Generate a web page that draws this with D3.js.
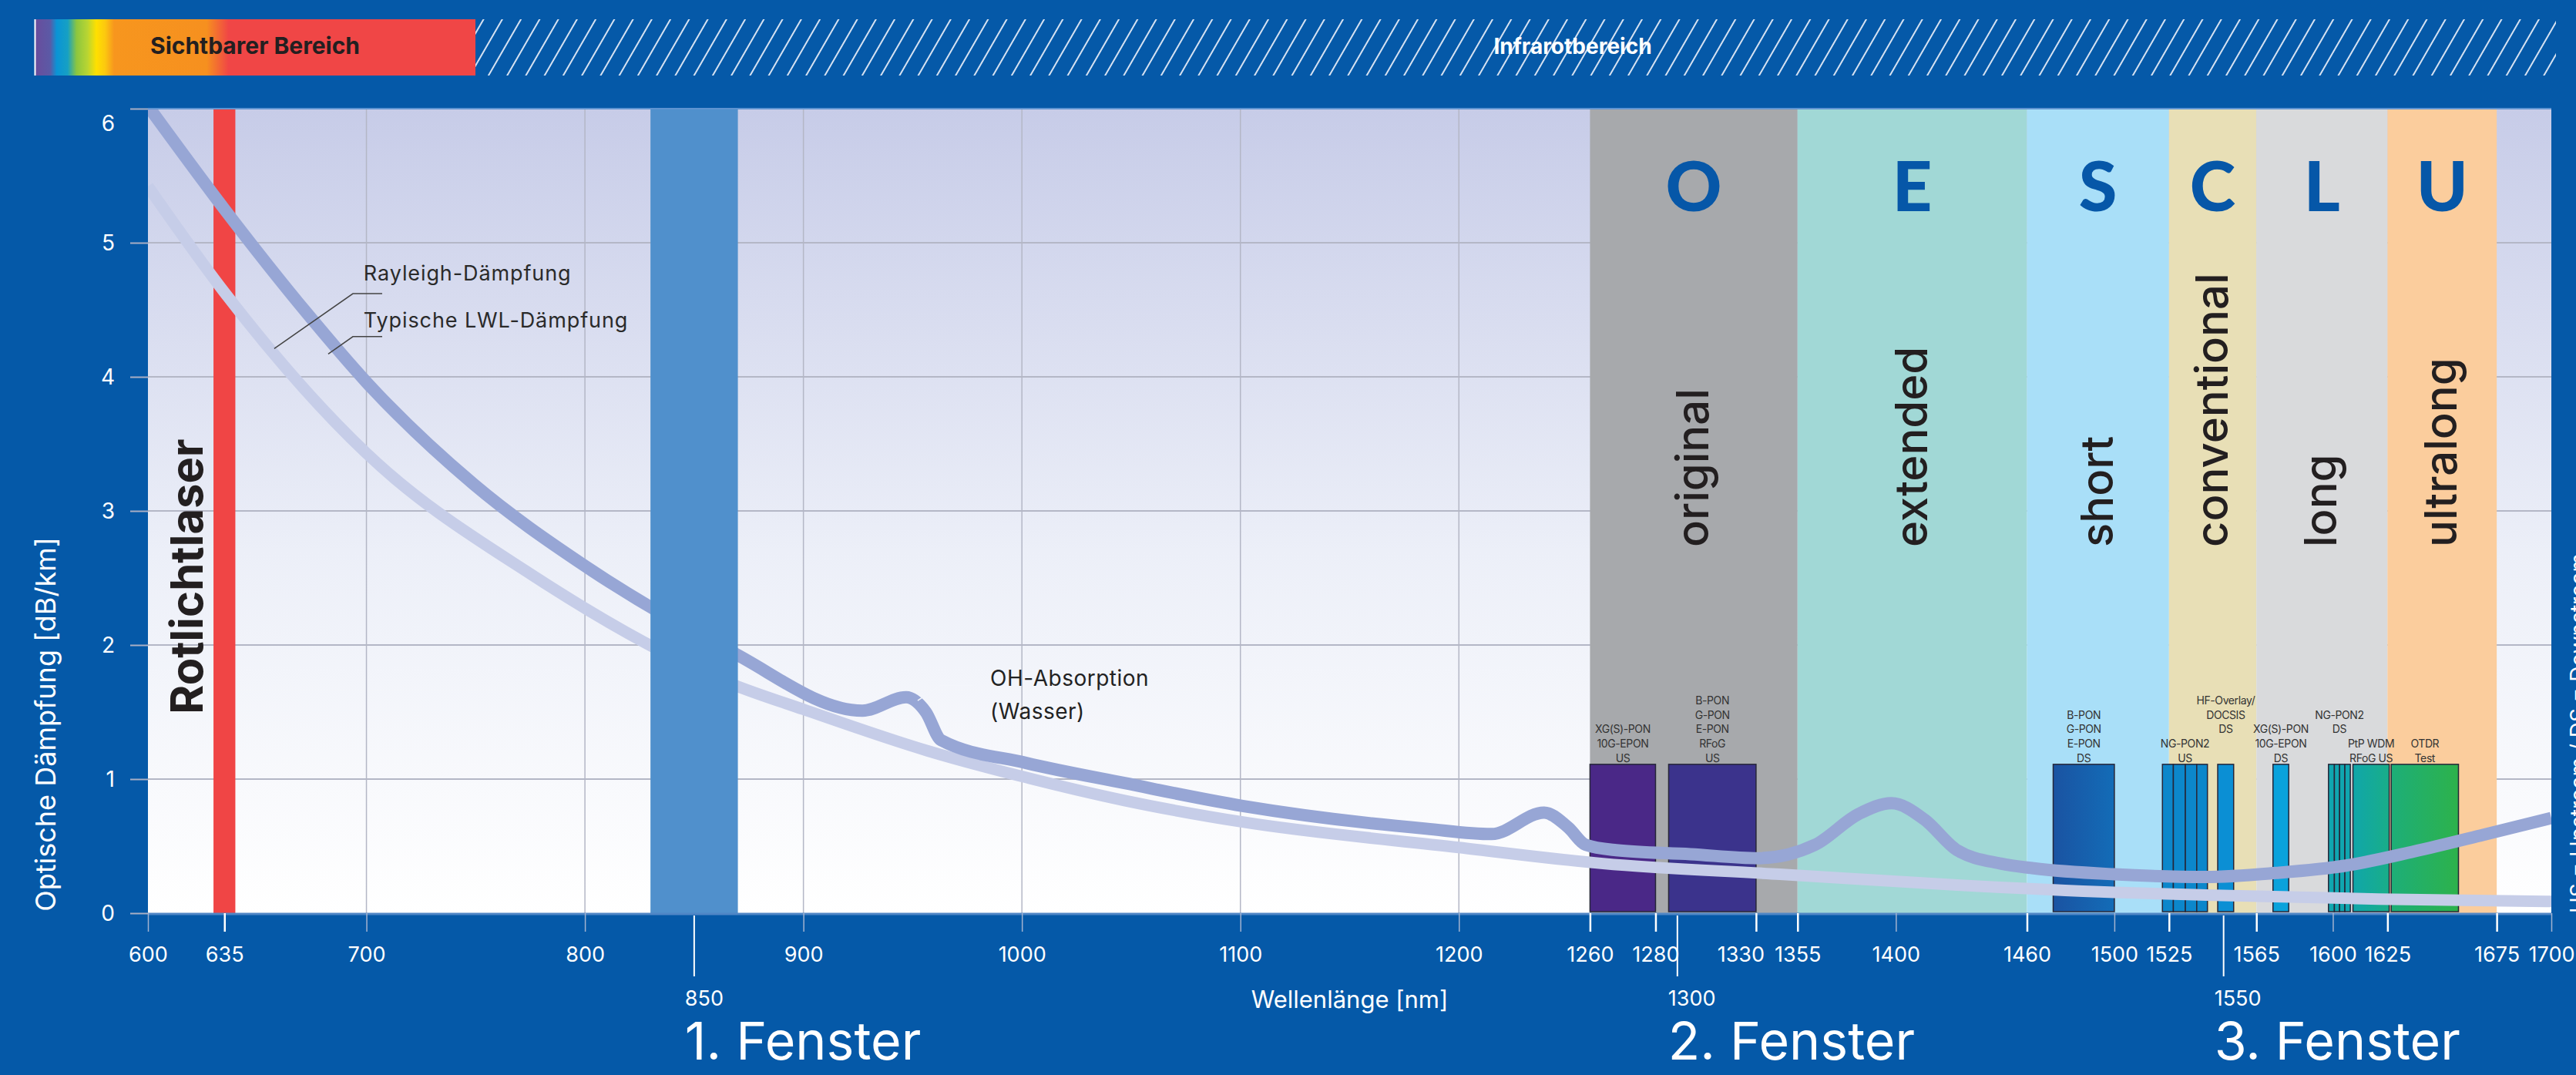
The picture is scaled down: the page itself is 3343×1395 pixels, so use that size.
<!DOCTYPE html>
<html>
<head>
<meta charset="utf-8">
<script src="https://cdn.jsdelivr.net/npm/d3@7"></script>
<style>
  body { margin: 0; background: #0559a8; }
  svg { display: block; font-family: Inter, "Open Sans", sans-serif; }
</style>
</head>
<body>
<div id="chart"></div>
<script>
// ---- data ----
const xTickPos = [600, 635, 700, 800, 900, 1000, 1100, 1200, 1260, 1290, 1336, 1355, 1400, 1460, 1500, 1525, 1565, 1600, 1625, 1675, 1700];
const xTickLabels = ["600", "635", "700", "800", "900", "1000", "1100", "1200", "1260", "1280", "1330", "1355", "1400", "1460", "1500", "1525", "1565", "1600", "1625", "1675", "1700"];
const yTicks = [0, 1, 2, 3, 4, 5, 6];
const gridX = [700, 800, 900, 1000, 1100, 1200];
const windowTicks = [850, 1300, 1550];
const windowNames = ["1. Fenster", "2. Fenster", "3. Fenster"];

const bandLetters = ["O", "E", "S", "C", "L", "U"];
const bandNames = ["original", "extended", "short", "conventional", "long", "ultralong"];
const bandFrom = [1260, 1355, 1460, 1525, 1565, 1625];
const bandTo = [1355, 1460, 1525, 1565, 1625, 1675];

const laserBand = [630, 640];
const band850 = [830, 870];

// upper curve (typische LWL-Dämpfung, with OH peaks)
const typicalNm = [600, 635, 673, 700, 749, 800, 867, 927, 947, 956, 963, 1002, 1047, 1101, 1160, 1185, 1215, 1239, 1250, 1258, 1272, 1306, 1337, 1363, 1383, 1398, 1413, 1428, 1448, 1463, 1500, 1542, 1574, 1606, 1637, 1669, 1700];
const typicalDb = [6.02, 5.25, 4.47, 3.96, 3.2, 2.59, 1.95, 1.51, 1.61, 1.5, 1.29, 1.12, 0.97, 0.8, 0.67, 0.63, 0.59, 0.75, 0.64, 0.51, 0.47, 0.44, 0.41, 0.51, 0.74, 0.82, 0.7, 0.47, 0.37, 0.335, 0.29, 0.27, 0.3, 0.355, 0.46, 0.585, 0.71];
// lower curve (Rayleigh)
const rayleighNm = [600, 635, 700, 776, 867, 900, 957, 1000, 1047, 1101, 1200, 1266, 1347, 1428, 1500, 1542, 1621, 1700];
const rayleighDb = [5.42, 4.63, 3.43, 2.52, 1.71, 1.52, 1.21, 1.02, 0.84, 0.68, 0.49, 0.37, 0.29, 0.21, 0.155, 0.135, 0.105, 0.087];

// PON / service channels: edges of each channel group, and their labels
const ponLevel = 1.11;
const ponEdges = [
  [1260, 1290],
  [1296, 1336],
  [1472, 1500],
  [1522, 1527, 1532.5, 1537.7, 1542.6],
  [1547.3, 1554.6],
  [1572.6, 1579.8],
  [1598, 1600.7, 1603.1, 1605.5, 1608],
  [1609.2, 1625.8],
  [1626.7, 1657.5]
];
const ponLabels = [
  ["XG(S)-PON", "10G-EPON", "US"],
  ["B-PON", "G-PON", "E-PON", "RFoG", "US"],
  ["B-PON", "G-PON", "E-PON", "DS"],
  ["NG-PON2", "US"],
  ["HF-Overlay/", "DOCSIS", "DS"],
  ["XG(S)-PON", "10G-EPON", "DS"],
  ["NG-PON2", "DS"],
  ["PtP WDM", "RFoG US"],
  ["OTDR", "Test"]
];

// ---- styles / layout ----
const bandColors = ["#a7a9ac", "#a1d8d6", "#a9dff8", "#e8dfb6", "#d9dadc", "#fbcd9d"];
const ponColors = ["#4a2887", "#3b338c", "url(#gPonDs)", "#0c87cb", "#0b8fd4", "#0aa2dc", "#10a6b0", "url(#gPtp)", "url(#gOtdr)"];
const ponLabelLift = [0, 0, 0, 0, 2, 0, 2, 0, 0];

const W = 3343, H = 1395;
const x = d3.scaleLinear().domain([600, 1700]).range([192, 3311]);
const y = d3.scaleLinear().domain([0, 6]).range([1185, 141]);

const svg = d3.select("#chart").append("svg").attr("width", W).attr("height", H);
const defs = svg.append("defs");

svg.append("rect").attr("width", W).attr("height", H).attr("fill", "#0559a8");

// gradients
function grad(id, stops, vertical) {
  const g = defs.append("linearGradient").attr("id", id)
    .attr("x1", 0).attr("y1", 0).attr("x2", vertical ? 0 : 1).attr("y2", vertical ? 1 : 0);
  stops.forEach(s => g.append("stop").attr("offset", s[0]).attr("stop-color", s[1]));
}
grad("plotBg", [[0, "#c7cce8"], [0.55, "#eceff8"], [1, "#ffffff"]], true);
grad("spectrum", [[0, "#6a4c9c"], [0.035, "#5b5aa6"], [0.05, "#0a94d6"], [0.075, "#16a0c4"],
  [0.095, "#8cc63f"], [0.12, "#b9d532"], [0.14, "#ffe000"], [0.16, "#fcc80f"], [0.18, "#f7961e"],
  [0.39, "#f6901f"], [0.44, "#f04646"], [1, "#f04646"]]);
grad("gPonDs", [[0, "#1a53a2"], [1, "#136cb7"]]);
grad("gPtp", [[0, "#10a6aa"], [1, "#19ae88"]]);
grad("gOtdr", [[0, "#1dae78"], [1, "#2db24b"]]);

const hatch = defs.append("pattern").attr("id", "hatch")
  .attr("patternUnits", "userSpaceOnUse").attr("width", 21).attr("height", 21)
  .attr("patternTransform", "rotate(30)");
hatch.append("line").attr("x1", 10).attr("x2", 10).attr("y1", -1).attr("y2", 22)
  .attr("stroke", "#d6e2f2").attr("stroke-width", 2);

defs.append("clipPath").attr("id", "plotClip").append("rect")
  .attr("x", x(600)).attr("y", y(6)).attr("width", x(1700) - x(600)).attr("height", y(0) - y(6));

// ---- top bar ----
svg.append("rect").attr("x", 45).attr("y", 25).attr("width", 572).attr("height", 73).attr("fill", "url(#spectrum)");
svg.append("line").attr("x1", 45.5).attr("x2", 45.5).attr("y1", 25).attr("y2", 98).attr("stroke", "#fff").attr("stroke-width", 2);
svg.append("rect").attr("x", 617).attr("y", 25).attr("width", 2700).attr("height", 73).attr("fill", "url(#hatch)");
svg.append("text").attr("x", 195).attr("y", 70).attr("font-size", 30).attr("font-weight", 700)
  .attr("fill", "#231f20").text("Sichtbarer Bereich");
svg.append("text").attr("x", 2041).attr("y", 70).attr("text-anchor", "middle").attr("font-size", 28)
  .attr("font-weight", 700).attr("fill", "#fff").text("Infrarotbereich");

// ---- plot background & grid ----
svg.append("rect").attr("x", x(600)).attr("y", y(6)).attr("width", x(1700) - x(600))
  .attr("height", y(0) - y(6)).attr("fill", "url(#plotBg)");

svg.append("g").selectAll("line").data(yTicks.filter(d => d > 0 && d < 6)).enter().append("line")
  .attr("x1", x(600)).attr("x2", x(1700))
  .attr("y1", d => y(d)).attr("y2", d => y(d))
  .attr("stroke", "#b4b7c6").attr("stroke-width", 2);

svg.append("g").selectAll("line").data(gridX).enter().append("line")
  .attr("x1", d => x(d)).attr("x2", d => x(d))
  .attr("y1", y(6)).attr("y2", y(0))
  .attr("stroke", "#b4b7c6").attr("stroke-width", 1.5);

// ---- bands ----
svg.append("g").selectAll("rect").data(bandFrom).enter().append("rect")
  .attr("x", d => x(d))
  .attr("y", y(6))
  .attr("width", (d, i) => x(bandTo[i]) - x(d))
  .attr("height", y(0) - y(6))
  .attr("fill", (d, i) => bandColors[i]);

svg.append("rect").attr("x", x(laserBand[0])).attr("y", y(6))
  .attr("width", x(laserBand[1]) - x(laserBand[0])).attr("height", y(0) - y(6)).attr("fill", "#f04545");

// ---- PON channel boxes ----
const pon = svg.append("g");
ponEdges.forEach((edges, gi) => {
  for (let k = 0; k < edges.length - 1; k++) {
    pon.append("rect")
      .attr("x", x(edges[k]))
      .attr("y", y(ponLevel))
      .attr("width", x(edges[k + 1]) - x(edges[k]))
      .attr("height", y(0) - y(ponLevel) - 2)
      .attr("fill", ponColors[gi])
      .attr("stroke", "#262638")
      .attr("stroke-width", 1.5);
  }
});

// ---- curves ----
const line = d3.line().x(d => x(d[0])).y(d => y(d[1])).curve(d3.curveMonotoneX);
const curves = svg.append("g").attr("clip-path", "url(#plotClip)");
curves.append("path").datum(rayleighNm.map((v, i) => [v, rayleighDb[i]]))
  .attr("d", line).attr("fill", "none").attr("stroke", "#c6cde8").attr("stroke-width", 15);
curves.append("path").datum(typicalNm.map((v, i) => [v, typicalDb[i]]))
  .attr("d", line).attr("fill", "none").attr("stroke", "#97a6d5").attr("stroke-width", 16);

svg.append("rect").attr("x", x(band850[0])).attr("y", y(6))
  .attr("width", x(band850[1]) - x(band850[0])).attr("height", y(0) - y(6)).attr("fill", "#5090cc");

// plot edges
svg.append("line").attr("x1", x(600)).attr("x2", x(1700)).attr("y1", y(6)).attr("y2", y(6))
  .attr("stroke", "#5f94d2").attr("stroke-width", 2);
svg.append("line").attr("x1", x(600)).attr("x2", x(1700)).attr("y1", y(0) + 1).attr("y2", y(0) + 1)
  .attr("stroke", "#4f86c6").attr("stroke-width", 3);

// ---- band letters and names ----
svg.append("g").selectAll("text").data(bandLetters).enter().append("text")
  .attr("x", (d, i) => x((bandFrom[i] + bandTo[i]) / 2))
  .attr("y", 274)
  .attr("text-anchor", "middle")
  .attr("font-family", "Lato, sans-serif")
  .attr("font-size", 90)
  .attr("font-weight", 900)
  .attr("fill", "#0657a8")
  .text(d => d);

svg.append("g").selectAll("text").data(bandNames).enter().append("text")
  .attr("transform", (d, i) => `translate(${x((bandFrom[i] + bandTo[i]) / 2) + 19},710) rotate(-90)`)
  .attr("font-size", 58)
  .attr("font-weight", 500)
  .attr("fill", "#231f20")
  .text(d => d);

svg.append("text")
  .attr("transform", `translate(${x(laserBand[0]) - 14},748) rotate(-90)`)
  .attr("text-anchor", "middle").attr("font-size", 58).attr("font-weight", 700)
  .attr("fill", "#231f20").text("Rotlichtlaser");

// ---- PON labels ----
ponLabels.forEach((lines, gi) => {
  const edges = ponEdges[gi];
  const cx = x((edges[0] + edges[edges.length - 1]) / 2);
  const bottom = y(ponLevel) - 3 - ponLabelLift[gi] * 18.7;
  svg.append("g").selectAll("text").data(lines).enter().append("text")
    .attr("x", cx)
    .attr("y", (d, i) => bottom - (lines.length - 1 - i) * 18.7)
    .attr("text-anchor", "middle")
    .attr("font-size", 14)
    .attr("letter-spacing", -0.4)
    .attr("fill", "#333")
    .text(d => d);
});

// ---- annotations ----
const lead = d3.line().x(d => x(d[0])).y(d => y(d[1]));
svg.append("path").datum([[707.2, 4.62], [693.8, 4.62], [657.8, 4.21]]).attr("d", lead)
  .attr("fill", "none").attr("stroke", "#444").attr("stroke-width", 1.5);
svg.append("path").datum([[707.2, 4.3], [693.8, 4.3], [682.5, 4.17]]).attr("d", lead)
  .attr("fill", "none").attr("stroke", "#444").attr("stroke-width", 1.5);
svg.append("text").attr("x", x(698.7)).attr("y", y(4.72)).attr("font-size", 27).attr("letter-spacing", 0.9)
  .attr("fill", "#2a2a2a").text("Rayleigh-Dämpfung");
svg.append("text").attr("x", x(698.7)).attr("y", y(4.37)).attr("font-size", 27).attr("letter-spacing", 0.9)
  .attr("fill", "#2a2a2a").text("Typische LWL-Dämpfung");

svg.append("path").datum([[977.5, 1.7], [962.9, 1.7], [952.3, 1.586]]).attr("d", lead)
  .attr("fill", "none").attr("stroke", "#f4f6fb").attr("stroke-width", 1.5);
svg.append("text").attr("x", x(985.5)).attr("y", y(1.695)).attr("font-size", 28).attr("letter-spacing", 0.5)
  .attr("fill", "#222").text("OH-Absorption");
svg.append("text").attr("x", x(985.5)).attr("y", y(1.448)).attr("font-size", 28).attr("letter-spacing", 0.5)
  .attr("fill", "#222").text("(Wasser)");

// ---- axes ----
const xAxis = svg.append("g").attr("transform", `translate(0,${y(0)})`)
  .call(d3.axisBottom(x).tickValues(xTickPos).tickFormat((d, i) => xTickLabels[i]).tickSize(24).tickPadding(20));
xAxis.select(".domain").remove();
xAxis.selectAll(".tick line")
  .attr("stroke", d => d % 100 === 0 ? "#a3b3d0" : "#ffffff")
  .attr("stroke-width", d => d % 100 === 0 ? 1.5 : 2.5);
xAxis.selectAll(".tick text")
  .attr("fill", "#fff").attr("font-size", 27).attr("font-family", "Inter, sans-serif")
  .attr("dx", (d, i) => xTickLabels[i] === "1330" ? -20 : 0);

const yAxis = svg.append("g").attr("transform", `translate(${x(600)},0)`)
  .call(d3.axisLeft(y).tickValues(yTicks).tickFormat(d3.format("d")).tickSize(23).tickPadding(20));
yAxis.select(".domain").remove();
yAxis.selectAll(".tick line").attr("stroke", "#a9afc4").attr("stroke-width", 2);
yAxis.selectAll(".tick text").attr("fill", "#fff").attr("font-size", 28).attr("font-family", "Inter, sans-serif")
  .attr("dy", d => d === 6 ? "1.0em" : "0.34em");

// optical windows
const win = svg.append("g");
win.selectAll("line").data(windowTicks).enter().append("line")
  .attr("x1", d => x(d)).attr("x2", d => x(d))
  .attr("y1", y(0) + 3).attr("y2", 1267)
  .attr("stroke", "#fff").attr("stroke-width", 2);
win.selectAll("text.wv").data(windowTicks).enter().append("text").attr("class", "wv")
  .attr("x", d => x(d) - 12).attr("y", 1305)
  .attr("font-size", 27).attr("fill", "#fff").text(d => d);
win.selectAll("text.wn").data(windowNames).enter().append("text").attr("class", "wn")
  .attr("x", (d, i) => x(windowTicks[i]) - 12).attr("y", 1375)
  .attr("font-size", 68).attr("fill", "#fff").text(d => d);

// axis titles
svg.append("text").attr("x", (x(600) + x(1700)) / 2).attr("y", 1308).attr("text-anchor", "middle")
  .attr("font-size", 31).attr("fill", "#fff").text("Wellenlänge [nm]");
svg.append("text").attr("transform", "translate(72,940) rotate(-90)").attr("text-anchor", "middle")
  .attr("font-size", 36).attr("fill", "#fff").text("Optische Dämpfung [dB/km]");
svg.append("text").attr("transform", `translate(3356,${y(0)}) rotate(-90)`)
  .attr("font-size", 28).attr("fill", "#fff").text("US = Upstream / DS = Downstream");
</script>
</body>
</html>
